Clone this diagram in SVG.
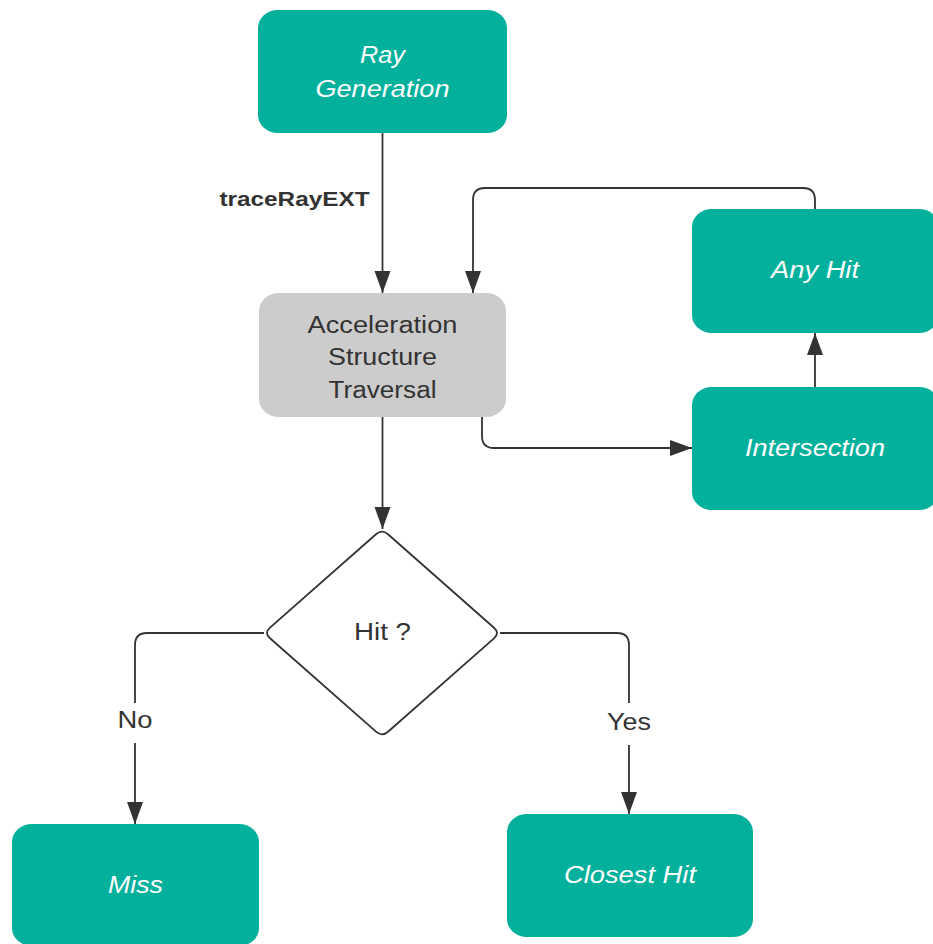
<svg xmlns="http://www.w3.org/2000/svg" width="933" height="944" viewBox="0 0 933 944">
<style>
.teal{fill:#02b09b;}
.gray{fill:#cccccc;}
.t{font-family:"Liberation Sans",Arial,sans-serif;font-size:23px;text-anchor:middle;}
.w{fill:#ffffff;font-style:italic;}
.d{fill:#333333;}
.b{font-weight:bold;font-size:20px;}
.c{fill:none;stroke:#333333;stroke-width:1.8;}
</style>
<defs>
<marker id="ah" markerUnits="userSpaceOnUse" markerWidth="24" markerHeight="18" refX="22" refY="8" orient="auto">
<path d="M0,0 L22,8 L0,16 Z" fill="#333333"/>
</marker>
</defs>
<rect width="933" height="944" fill="#ffffff"/>
<g id="connectors">
<path class="c" d="M382.5,133 V293" marker-end="url(#ah)"/>
<path class="c" d="M382.5,417 V529" marker-end="url(#ah)"/>
<path class="c" d="M482,417 V436 Q482,448 494,448 H692" marker-end="url(#ah)"/>
<path class="c" d="M815,387 V333" marker-end="url(#ah)"/>
<path class="c" d="M815,209 V200 Q815,188 803,188 H485 Q473,188 473,200 V293" marker-end="url(#ah)"/>
<path class="c" d="M264,633 H147 Q135,633 135,645 V824" marker-end="url(#ah)"/>
<path class="c" d="M500,633 H617 Q629,633 629,645 V814" marker-end="url(#ah)"/>
<rect x="112" y="703" width="46" height="40" fill="#ffffff"/>
<rect x="604" y="703" width="50" height="42" fill="#ffffff"/>
<text class="t d" x="135" y="728" textLength="35" lengthAdjust="spacingAndGlyphs">No</text>
<text class="t d" x="629" y="730" textLength="44" lengthAdjust="spacingAndGlyphs">Yes</text>
<text class="t d b" x="294.5" y="206" textLength="150" lengthAdjust="spacingAndGlyphs">traceRayEXT</text>
</g>
<g id="ray-generation">
<rect class="teal" x="258" y="10" width="249" height="123" rx="20" ry="18"/>
<text class="t w" x="382.5" y="63" textLength="45" lengthAdjust="spacingAndGlyphs">Ray</text>
<text class="t w" x="382.5" y="97" textLength="134" lengthAdjust="spacingAndGlyphs">Generation</text>
</g>
<g id="acceleration-structure-traversal">
<rect class="gray" x="259" y="293" width="247" height="124" rx="20" ry="18"/>
<text class="t d" x="382.5" y="333" textLength="150" lengthAdjust="spacingAndGlyphs">Acceleration</text>
<text class="t d" x="382.5" y="365" textLength="109" lengthAdjust="spacingAndGlyphs">Structure</text>
<text class="t d" x="382.5" y="398" textLength="108" lengthAdjust="spacingAndGlyphs">Traversal</text>
</g>
<g id="any-hit">
<rect class="teal" x="692" y="209" width="247" height="124" rx="20" ry="18"/>
<text class="t w" x="815" y="278" textLength="88" lengthAdjust="spacingAndGlyphs">Any Hit</text>
</g>
<g id="intersection">
<rect class="teal" x="692" y="387" width="247" height="123" rx="20" ry="18"/>
<text class="t w" x="815" y="456" textLength="140" lengthAdjust="spacingAndGlyphs">Intersection</text>
</g>
<g id="hit-decision">
<path d="M388,534.3 L494,627.7 Q500,633 494,638.3 L388,731.7 Q382,737 376,731.7 L270,638.3 Q264,633 270,627.7 L376,534.3 Q382,529 388,534.3 Z" fill="#ffffff" stroke="#333333" stroke-width="1.8"/>
<text class="t d" x="382.5" y="640" textLength="57" lengthAdjust="spacingAndGlyphs">Hit ?</text>
</g>
<g id="miss">
<rect class="teal" x="12" y="824" width="247" height="122" rx="20" ry="18"/>
<text class="t w" x="135.5" y="893" textLength="55" lengthAdjust="spacingAndGlyphs">Miss</text>
</g>
<g id="closest-hit">
<rect class="teal" x="507" y="814" width="246" height="123" rx="20" ry="18"/>
<text class="t w" x="630" y="883" textLength="132" lengthAdjust="spacingAndGlyphs">Closest Hit</text>
</g>
</svg>
